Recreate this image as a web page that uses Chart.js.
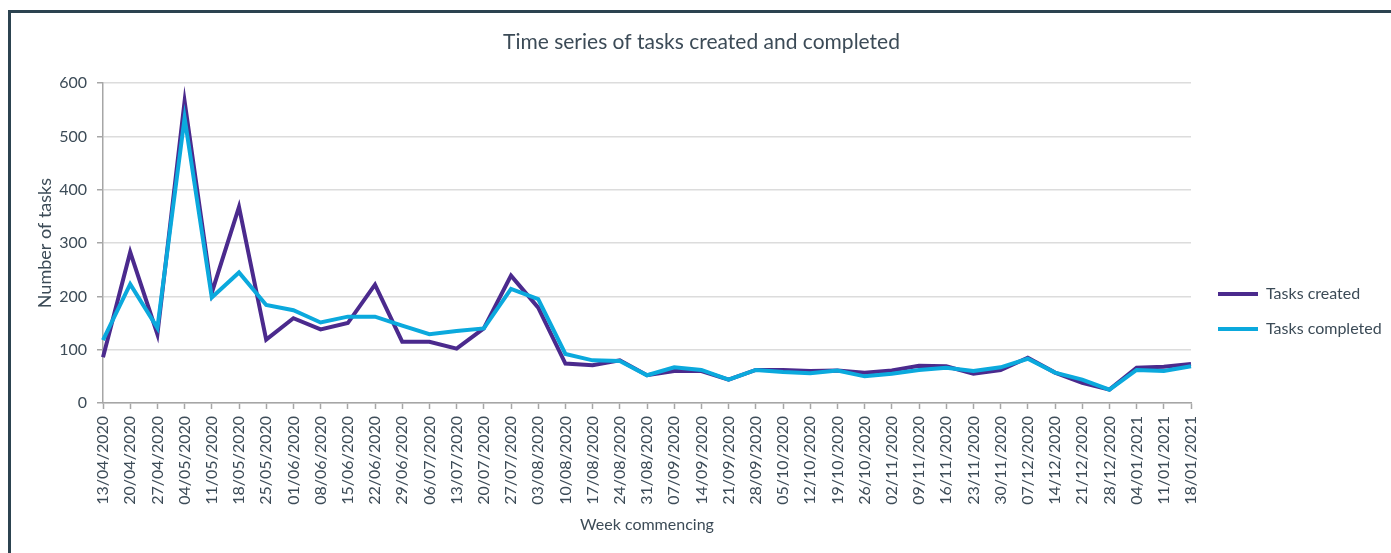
<!DOCTYPE html>
<html>
<head>
<meta charset="utf-8">
<script src="https://cdn.jsdelivr.net/npm/chart.js@4.4.1/dist/chart.umd.min.js"></script>
<style>
  html, body { margin: 0; padding: 0; background: #fff; overflow: hidden; }
  #frame { position: absolute; left: 8px; top: 10px; width: 2000px; height: 1000px;
           border-left: 3px solid #2c4350; border-top: 3px solid #2c4350; }
  #wrap { position: absolute; left: 12px; top: 14px; width: 1379px; height: 539px; }
</style>
</head>
<body>
<div id="frame"></div>
<div id="wrap"><canvas id="tasksChart"></canvas></div>
<script>
const weeks = ['13/04/2020', '20/04/2020', '27/04/2020', '04/05/2020', '11/05/2020', '18/05/2020',
  '25/05/2020', '01/06/2020', '08/06/2020', '15/06/2020', '22/06/2020', '29/06/2020', '06/07/2020',
  '13/07/2020', '20/07/2020', '27/07/2020', '03/08/2020', '10/08/2020', '17/08/2020', '24/08/2020',
  '31/08/2020', '07/09/2020', '14/09/2020', '21/09/2020', '28/09/2020', '05/10/2020', '12/10/2020',
  '19/10/2020', '26/10/2020', '02/11/2020', '09/11/2020', '16/11/2020', '23/11/2020', '30/11/2020',
  '07/12/2020', '14/12/2020', '21/12/2020', '28/12/2020', '04/01/2021', '11/01/2021', '18/01/2021'];

const tasksCreated = [86, 283, 129, 566, 207, 368, 119, 159, 138, 150, 222,
  115, 115, 102, 140, 239, 179, 74, 71, 80, 52, 60,
  60, 44, 62, 62, 60, 61, 57, 61, 70, 69,
  55, 62, 85, 57, 38, 25, 66, 68, 73];

const tasksCompleted = [118, 223, 141, 535, 198, 245, 184, 174, 151, 162, 162,
  145, 129, 135, 140, 214, 195, 92, 80, 79, 52, 67,
  62, 44, 62, 58, 56, 61, 50, 55, 62, 66,
  60, 67, 83, 57, 44, 25, 62, 60, 69];

const textColor = '#3c4b57';
const axisColor = '#a6a6a6';
const fontFamily = 'Lato, "Open Sans", sans-serif';

// legend a fixed width, and nudged a bit like in the original
const legendTweak = {
  id: 'legendTweak',
  afterInit(chart) {
    const lg = chart.legend;
    const fit = lg.fit;
    lg.fit = function () { fit.call(this); this.width = 200; };
  },
  afterLayout(chart) {
    chart.legend.left += 8;
    chart.legend.top += 28;
    chart.legend.bottom += 28;
  }
};

const ctx = document.getElementById('tasksChart').getContext('2d');
const tasksChart = new Chart(ctx, {
  type: 'line',
  data: {
    labels: weeks,
    datasets: [{
      label: 'Tasks created',
      data: tasksCreated,
      borderColor: '#4b2a8d',
      backgroundColor: '#4b2a8d',
      borderWidth: 4,
      pointRadius: 0,
      tension: 0,
      order: 1
    }, {
      label: 'Tasks completed',
      data: tasksCompleted,
      borderColor: '#0ba9dd',
      backgroundColor: '#0ba9dd',
      borderWidth: 4,
      pointRadius: 0,
      tension: 0,
      order: 0
    }]
  },
  options: {
    responsive: true,
    maintainAspectRatio: false,
    animation: false,
    layout: { padding: 0 },
    plugins: {
      title: {
        display: true,
        text: 'Time series of tasks created and completed',
        color: textColor,
        font: { family: fontFamily, size: 21, weight: 'normal' },
        padding: { top: 16, bottom: 28 }
      },
      legend: {
        position: 'right',
        labels: {
          color: textColor,
          font: { family: fontFamily, size: 16 },
          boxWidth: 40,
          boxHeight: 4,
          padding: 19,
          sort: (a, b) => a.datasetIndex - b.datasetIndex,
          generateLabels(chart) {
            return Chart.defaults.plugins.legend.labels.generateLabels(chart)
              .map(l => Object.assign(l, { lineWidth: 0 }));
          }
        }
      },
      tooltip: { enabled: false }
    },
    scales: {
      x: {
        offset: false,
        afterFit(scale) { scale.height = 150; },
        border: { color: axisColor, width: 1.5 },
        grid: { drawOnChartArea: false, drawTicks: true, tickLength: 6, tickColor: axisColor, tickWidth: 1.5 },
        ticks: {
          color: textColor,
          font: { family: fontFamily, size: 16 },
          maxRotation: 90,
          minRotation: 90,
          autoSkip: false,
          padding: 7
        },
        title: {
          display: true,
          text: 'Week commencing',
          color: textColor,
          font: { family: fontFamily, size: 16 },
          padding: { top: 0, bottom: 19 }
        }
      },
      y: {
        min: 0,
        max: 600,
        afterFit(scale) { scale.width = 91; },
        border: { color: axisColor, width: 1.5 },
        grid: { color: '#dcdcdc', lineWidth: 1.5, tickLength: 6, tickColor: axisColor, tickWidth: 1.5 },
        ticks: {
          stepSize: 100,
          color: textColor,
          font: { family: fontFamily, size: 16 },
          padding: 10
        },
        title: {
          display: true,
          text: 'Number of tasks',
          color: textColor,
          font: { family: fontFamily, size: 18 },
          padding: { top: 22, bottom: 0 }
        }
      }
    }
  },
  plugins: [legendTweak]
});
</script>
</body>
</html>
